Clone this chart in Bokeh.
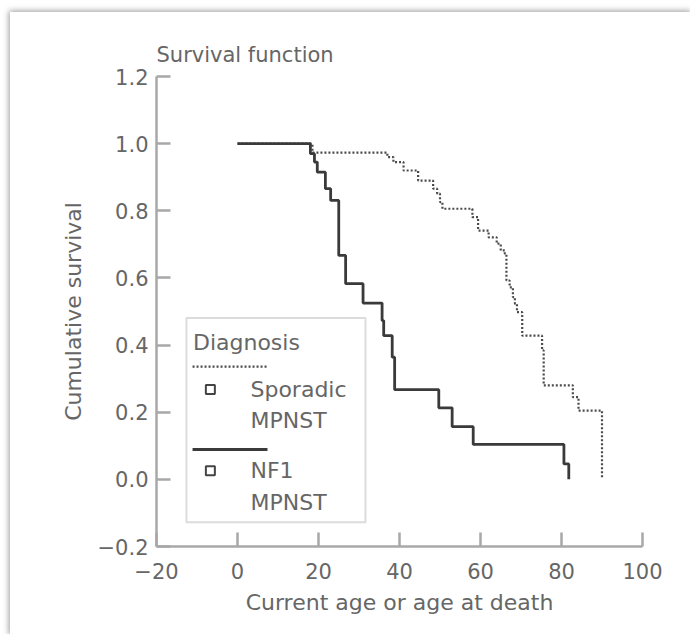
from bokeh.plotting import figure
from bokeh.embed import file_html
from bokeh.resources import INLINE
from bokeh.models import FixedTicker, Label, BoxAnnotation, Range1d

# ---- data (Kaplan-Meier steps: age, survival after event) ----
nf1_age = [0, 18.0, 19.0, 19.7, 21.7, 23.0, 25.0, 26.7, 31.0, 35.7, 36.1, 38.2, 38.8,
           49.7, 53.0, 58.2, 80.6, 81.8]
nf1_surv = [1.0, 0.970, 0.945, 0.915, 0.866, 0.831, 0.667, 0.583, 0.525, 0.473, 0.428,
            0.364, 0.267, 0.213, 0.157, 0.104, 0.046, 0.0]

spor_age = [0, 18.5, 37.0, 38.5, 41.0, 44.6, 48.3, 49.3, 50.0, 50.6, 58.0, 59.4, 62.0,
            64.0, 65.0, 66.0, 66.4, 67.2, 68.0, 68.5, 69.0, 70.3, 75.2, 75.6, 82.8,
            84.2, 90.0]
spor_surv = [1.0, 0.973, 0.960, 0.945, 0.920, 0.890, 0.866, 0.851, 0.826, 0.806, 0.781,
             0.741, 0.721, 0.702, 0.682, 0.672, 0.592, 0.572, 0.543, 0.523, 0.498, 0.428,
             0.384, 0.280, 0.245, 0.205, 0.0]

x_ticks = [-20, 0, 20, 40, 60, 80, 100]
x_tick_labels = ["\u221220", "0", "20", "40", "60", "80", "100"]
y_ticks = [-0.2, 0.0, 0.2, 0.4, 0.6, 0.8, 1.0, 1.2]
y_tick_labels = ["\u22120.2", "0.0", "0.2", "0.4", "0.6", "0.8", "1.0", "1.2"]

legend_title = "Diagnosis"
legend_labels = [["Sporadic", "MPNST"], ["NF1", "MPNST"]]

FONT = "DejaVu Sans"
TXT = "#666666"
AX = "#a8a8a8"

p = figure(width=680, height=622, output_backend="svg", toolbar_location=None,
           x_range=Range1d(-20, 100), y_range=Range1d(-0.2, 1.2),
           min_border_left=146, min_border_right=48, min_border_top=64,
           min_border_bottom=88, margin=(12, 0, 0, 10),
           styles={"box-shadow": "0px 0px 6px 1px rgba(0,0,0,0.4)"})
p.background_fill_color = "white"
p.border_fill_color = "white"
p.outline_line_color = None
p.grid.visible = False

p.title.text = "Survival function"
p.title.align = "left"
p.title.text_font = FONT
p.title.text_font_size = "21px"
p.title.text_font_style = "normal"
p.title.text_color = TXT
p.title.standoff = 19

for ax in (p.xaxis[0], p.yaxis[0]):
    ax.axis_line_color = AX
    ax.axis_line_width = 2.5
    ax.major_tick_line_color = AX
    ax.major_tick_line_width = 2.5
    ax.major_tick_in = 14
    ax.major_tick_out = 0
    ax.minor_tick_line_color = None
    ax.major_label_text_font = FONT
    ax.major_label_text_font_size = "21px"
    ax.major_label_text_color = TXT
    ax.axis_label_text_font = FONT
    ax.axis_label_text_font_size = "22px"
    ax.axis_label_text_font_style = "normal"
    ax.axis_label_text_color = TXT

p.xaxis.ticker = FixedTicker(ticks=x_ticks)
p.xaxis.major_label_overrides = dict(zip(x_ticks, x_tick_labels))
p.yaxis.ticker = FixedTicker(ticks=y_ticks)
p.yaxis.major_label_overrides = dict(zip(y_ticks, y_tick_labels))
p.xaxis.axis_label = "Current age or age at death"
p.yaxis.axis_label = "Cumulative survival"
p.xaxis.major_label_standoff = 16
p.yaxis.major_label_standoff = 8
p.xaxis.axis_label_standoff = 8
p.yaxis.axis_label_standoff = 9

# ---- manual legend box (drawn under the curves) ----
p.add_layout(BoxAnnotation(left=-12.6, right=31.6, bottom=-0.128, top=0.481,
                           fill_color="white", fill_alpha=1.0, level="underlay",
                           line_color="#8c8c8c", line_width=2))

# curves
p.step(spor_age, spor_surv, mode="after", line_color="#4a4a4a", line_width=2.2,
       line_dash="2 2")
p.step(nf1_age, nf1_surv, mode="after", line_color="#3a3a3a", line_width=2.8)

# legend content
p.add_layout(Label(x=-11.0, y=0.408, text=legend_title, text_font=FONT,
                   text_font_size="22px", text_color=TXT, text_baseline="middle"))
p.line([-11.1, 7.4], [0.336, 0.336], line_color="#4a4a4a", line_width=2.2, line_dash="2 2")
p.line([-11.1, 7.4], [0.089, 0.089], line_color="#3a3a3a", line_width=2.8)
p.scatter([-6.7, -6.7], [0.268, 0.026], marker="square", size=9,
          fill_color="white", line_color="#444444", line_width=2)
rows = [(0.268, 0.175), (0.026, -0.069)]
for (y1, y2), lab in zip(rows, legend_labels):
    for yy, t in zip((y1, y2), lab):
        p.add_layout(Label(x=3.2, y=yy, text=t, text_font=FONT, text_font_size="22px",
                           text_color=TXT, text_baseline="middle"))

open("out.html", "w").write(file_html(p, INLINE))
